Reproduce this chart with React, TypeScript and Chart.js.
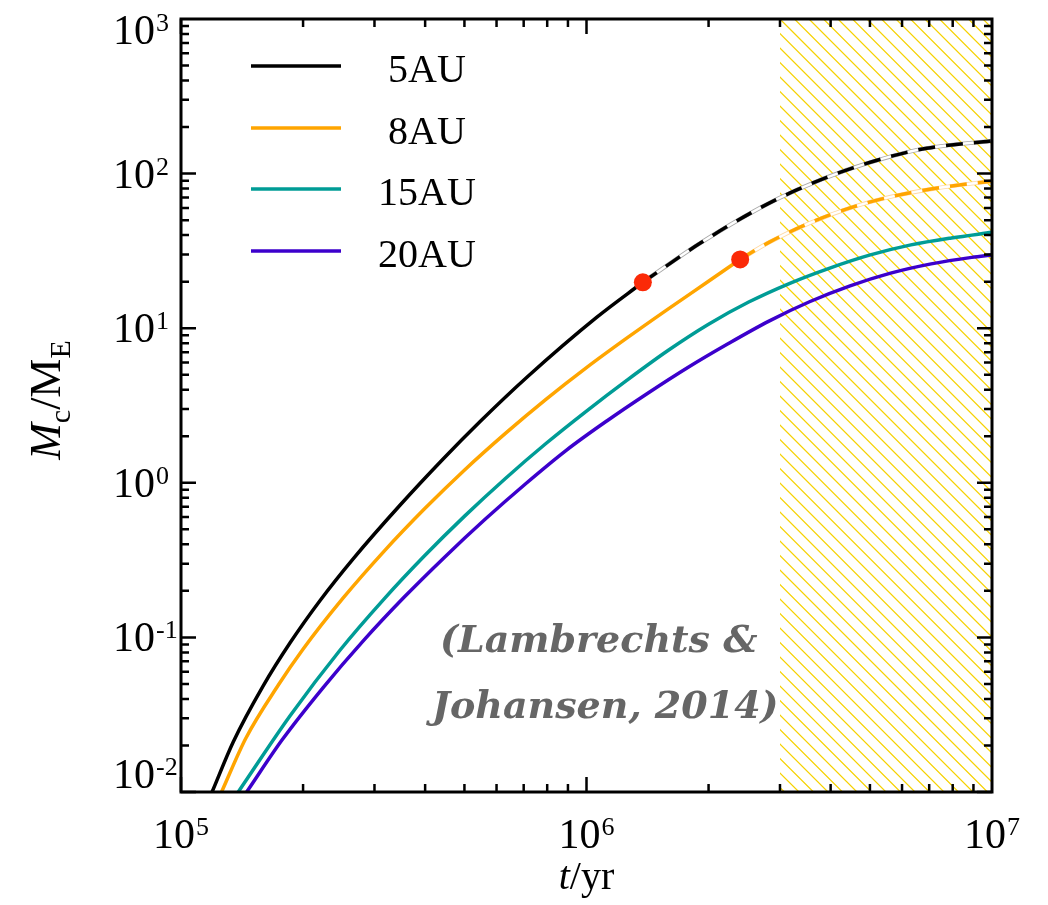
import { useEffect, useRef } from 'react';
import { Chart, registerables } from 'chart.js';

Chart.register(...registerables);

const W = 1048;
const H = 905;

// Core mass growth tracks: time in yr, core mass in Earth masses
const t5Solid = [1.193e5, 1.346e5, 1.596e5, 1.858e5, 2.203e5, 2.661e5, 3.467e5, 4.436e5, 5.458e5, 7.129e5, 1.059e6, 1.377e6];
const m5Solid = [0.01, 0.02113, 0.04875, 0.09226, 0.1734, 0.3236, 0.7161, 1.432, 2.483, 4.819, 11.75, 19.82];
const t5Dash = [1.377e6, 1.905e6, 2.679e6, 3.311e6, 4.375e6, 5.715e6, 6.902e6, 1e7];
const m5Dash = [19.82, 35.4, 60.0, 78.7, 105.4, 130.6, 145.9, 163];

const t8Solid = [1.259e5, 1.445e5, 1.738e5, 1.995e5, 2.512e5, 3.162e5, 3.981e5, 5.012e5, 6.31e5, 7.943e5, 1e6, 1.259e6, 1.585e6, 1.995e6, 2.393e6];
const m8Solid = [0.01, 0.02228, 0.0492, 0.0832, 0.1799, 0.3589, 0.6761, 1.216, 2.089, 3.467, 5.559, 8.65, 13.24, 20.04, 27.86];
const t8Dash = [2.393e6, 2.818e6, 3.548e6, 4.467e6, 5.623e6, 7.079e6, 8.913e6, 1e7];
const m8Dash = [27.86, 35.89, 47.86, 59.98, 70.79, 79.43, 86.3, 89.13];

const t15 = [1.384e5, 1.858e5, 2.466e5, 3.162e5, 3.981e5, 5.012e5, 6.31e5, 7.943e5, 1e6, 1.259e6, 1.585e6, 1.995e6, 2.512e6, 3.162e6, 3.981e6, 5.012e6, 6.31e6, 7.943e6, 1e7];
const m15 = [0.01, 0.03112, 0.0826, 0.1762, 0.3357, 0.6109, 1.067, 1.795, 2.911, 4.613, 7.145, 10.57, 14.76, 19.45, 24.49, 29.79, 34.59, 38.37, 41.69];

const t20 = [1.452e5, 1.778e5, 2.239e5, 2.818e5, 3.548e5, 4.467e5, 5.623e5, 7.079e5, 8.913e5, 1.122e6, 1.413e6, 1.778e6, 2.239e6, 2.818e6, 3.548e6, 4.467e6, 5.623e6, 7.079e6, 8.913e6, 1e7];
const m20 = [0.01, 0.02183, 0.04721, 0.09528, 0.1816, 0.3304, 0.5808, 0.9863, 1.622, 2.512, 3.784, 5.572, 7.962, 11.12, 14.83, 18.79, 22.7, 26.06, 28.71, 29.72];

// Pebble isolation mass reached (end of the solid tracks)
const isoT = [1.377e6, 2.393e6];
const isoM = [19.82, 27.86];

const seriesLabels = ['5AU', '8AU', '15AU', '20AU'];
const seriesColors = ['#000000', '#ffa500', '#009c96', '#3c00cc'];
const dashEdgeColors = ['#a9a9a9', '#ffd9a3'];

// Disc dissipation window (hatched)
const hatchStart = 3e6;
const hatchEnd = 1e7;

const xExps = [5, 6, 7];
const yExps = [-2, -1, 0, 1, 2, 3];
const xMin = 1e5;
const xMax = 1e7;
const yMin = 1e-2;
const yMax = 1e3;

const citeLines = ['(Lambrechts &', 'Johansen, 2014)'];

const SERIF = '"Liberation Serif", "Times New Roman", serif';

function pts(xs: number[], ys: number[]) {
  return xs.map((x, i) => ({ x, y: ys[i] }));
}

function drawPower(ctx: CanvasRenderingContext2D, exp: number, x: number, baseline: number, align: 'left' | 'center') {
  const baseFont = `42px ${SERIF}`;
  const supFont = `26px ${SERIF}`;
  const expText = exp < 0 ? '-' + Math.abs(exp) : String(exp);
  ctx.font = baseFont;
  const wb = ctx.measureText('10').width;
  ctx.font = supFont;
  const ws = ctx.measureText(expText).width;
  const total = wb + 1 + ws;
  const x0 = align === 'left' ? x : x - total / 2;
  ctx.textAlign = 'left';
  ctx.textBaseline = 'alphabetic';
  ctx.font = baseFont;
  ctx.fillText('10', x0, baseline);
  ctx.font = supFont;
  ctx.fillText(expText, x0 + wb + 1, baseline - 13);
}

const framePlugin = {
  id: 'frameAndDecor',
  beforeDatasetsDraw(chart: any) {
    const { ctx, chartArea, scales } = chart;
    const { top, bottom } = chartArea;
    const x0 = scales.x.getPixelForValue(hatchStart);
    const x1 = scales.x.getPixelForValue(hatchEnd);
    const h = bottom - top;
    ctx.save();
    ctx.beginPath();
    ctx.rect(x0, top, x1 - x0, h);
    ctx.clip();
    ctx.strokeStyle = '#f6d200';
    ctx.lineWidth = 1.2;
    ctx.beginPath();
    const step = 14.5;
    for (let s = x0 - Math.ceil(h / step) * step; s < x1 + step; s += step) {
      ctx.moveTo(s, top);
      ctx.lineTo(s + h, bottom);
    }
    ctx.stroke();
    ctx.restore();
  },
  afterDatasetsDraw(chart: any) {
    const { ctx, chartArea, scales } = chart;
    const { left, right, top, bottom } = chartArea;
    const xs = scales.x;
    const ys = scales.y;
    ctx.save();

    // frame
    ctx.strokeStyle = '#000';
    ctx.lineWidth = 3;
    ctx.strokeRect(left, top, right - left, bottom - top);

    // inward ticks on all four sides
    ctx.lineWidth = 2.5;
    ctx.beginPath();
    const major = 15;
    const minor = 8;
    for (let e = 5; e <= 6; e++) {
      for (let k = 1; k <= 9; k++) {
        const px = xs.getPixelForValue(k * Math.pow(10, e));
        const len = k === 1 ? major : minor;
        ctx.moveTo(px, bottom);
        ctx.lineTo(px, bottom - len);
        ctx.moveTo(px, top);
        ctx.lineTo(px, top + len);
      }
    }
    for (let e = -2; e <= 2; e++) {
      for (let k = 1; k <= 9; k++) {
        const py = ys.getPixelForValue(k * Math.pow(10, e));
        const len = k === 1 ? major : minor;
        ctx.moveTo(left, py);
        ctx.lineTo(left + len, py);
        ctx.moveTo(right, py);
        ctx.lineTo(right - len, py);
      }
    }
    ctx.stroke();

    // tick labels
    ctx.fillStyle = '#000';
    xExps.forEach((e) => {
      const px = xs.getPixelForValue(Math.pow(10, e));
      drawPower(ctx, e, px, 848, 'center');
    });
    yExps.forEach((e) => {
      const py = ys.getPixelForValue(Math.pow(10, e));
      const c = Math.min(Math.max(py, top + 11), bottom - 18);
      drawPower(ctx, e, 113, c + 14, 'left');
    });

    // x title: t/yr
    ctx.textBaseline = 'alphabetic';
    ctx.textAlign = 'left';
    ctx.font = `italic 40px ${SERIF}`;
    const wt = ctx.measureText('t').width;
    ctx.font = `40px ${SERIF}`;
    const wr = ctx.measureText('/yr').width;
    const cx = (left + right) / 2;
    const sx = cx - (wt + wr) / 2;
    ctx.font = `italic 40px ${SERIF}`;
    ctx.fillText('t', sx, 889);
    ctx.font = `40px ${SERIF}`;
    ctx.fillText('/yr', sx + wt, 889);

    // y title: M_c / M_E
    const parts: [string, string, number][] = [
      ['M', `italic 44px ${SERIF}`, 0],
      ['c', `30px ${SERIF}`, 10],
      ['/', `44px ${SERIF}`, 0],
      ['M', `44px ${SERIF}`, 0],
      ['E', `30px ${SERIF}`, 10],
    ];
    let total = 0;
    const widths = parts.map(([s, f]) => {
      ctx.font = f;
      const w = ctx.measureText(s).width;
      total += w;
      return w;
    });
    ctx.save();
    ctx.translate(60, 400);
    ctx.rotate(-Math.PI / 2);
    let px = -total / 2;
    parts.forEach(([s, f, dy], i) => {
      ctx.font = f;
      ctx.fillText(s, px, dy);
      px += widths[i];
    });
    ctx.restore();

    // legend
    const legY = [66, 128, 189, 251];
    seriesLabels.forEach((lab, i) => {
      ctx.strokeStyle = seriesColors[i];
      ctx.lineWidth = 3.5;
      ctx.beginPath();
      ctx.moveTo(251, legY[i]);
      ctx.lineTo(341, legY[i]);
      ctx.stroke();
      ctx.fillStyle = '#000';
      ctx.font = `40px ${SERIF}`;
      ctx.textAlign = 'center';
      ctx.fillText(lab, 427, legY[i] + 16);
    });

    // citation
    ctx.textAlign = 'left';
    ctx.fillStyle = '#666666';
    ctx.font = 'italic bold 38px "DejaVu Serif", serif';
    ctx.fillText(citeLines[0], 440, 652);
    ctx.fillText(citeLines[1], 432, 718);

    ctx.restore();
  },
};

export default function App() {
  const ref = useRef<HTMLCanvasElement>(null);

  useEffect(() => {
    if (!ref.current) return;
    const solid = (data: any[], color: string) => ({
      data,
      borderColor: color,
      borderWidth: 3.5,
      pointRadius: 0,
      fill: false,
      cubicInterpolationMode: 'monotone' as const,
      order: 5,
    });
    const dashSet = (xsA: number[], ysA: number[], color: string, edge: string) => [
      { ...solid(pts(xsA, ysA), edge), borderWidth: 4.2, order: 4 },
      { ...solid(pts(xsA, ysA), '#ffffff'), borderWidth: 2.4, order: 3 },
      { ...solid(pts(xsA, ysA), color), borderWidth: 3.5, borderDash: [17, 11], order: 2 },
    ];
    const chart = new Chart(ref.current, {
      type: 'line',
      data: {
        datasets: [
          solid(pts(t5Solid, m5Solid), seriesColors[0]),
          solid(pts(t8Solid, m8Solid), seriesColors[1]),
          solid(pts(t15, m15), seriesColors[2]),
          solid(pts(t20, m20), seriesColors[3]),
          ...dashSet(t5Dash, m5Dash, seriesColors[0], dashEdgeColors[0]),
          ...dashSet(t8Dash, m8Dash, seriesColors[1], dashEdgeColors[1]),
          {
            data: pts(isoT, isoM),
            showLine: false,
            pointRadius: 9,
            pointBackgroundColor: '#fb2a08',
            pointBorderColor: '#fb2a08',
            pointBorderWidth: 0,
            order: 0,
          },
        ] as any,
      },
      options: {
        responsive: false,
        animation: false,
        devicePixelRatio: 1,
        layout: { padding: { left: 181, right: 56, top: 19, bottom: 113 } },
        scales: {
          x: { type: 'logarithmic', min: xMin, max: xMax, display: false },
          y: { type: 'logarithmic', min: yMin, max: yMax, display: false },
        },
        plugins: { legend: { display: false }, tooltip: { enabled: false } },
        events: [],
      },
      plugins: [framePlugin],
    });
    return () => chart.destroy();
  }, []);

  return (
    <div style={{ position: 'absolute', left: 0, top: 0, width: W, height: H, background: '#fff' }}>
      <canvas ref={ref} width={W} height={H} style={{ display: 'block' }} />
    </div>
  );
}
